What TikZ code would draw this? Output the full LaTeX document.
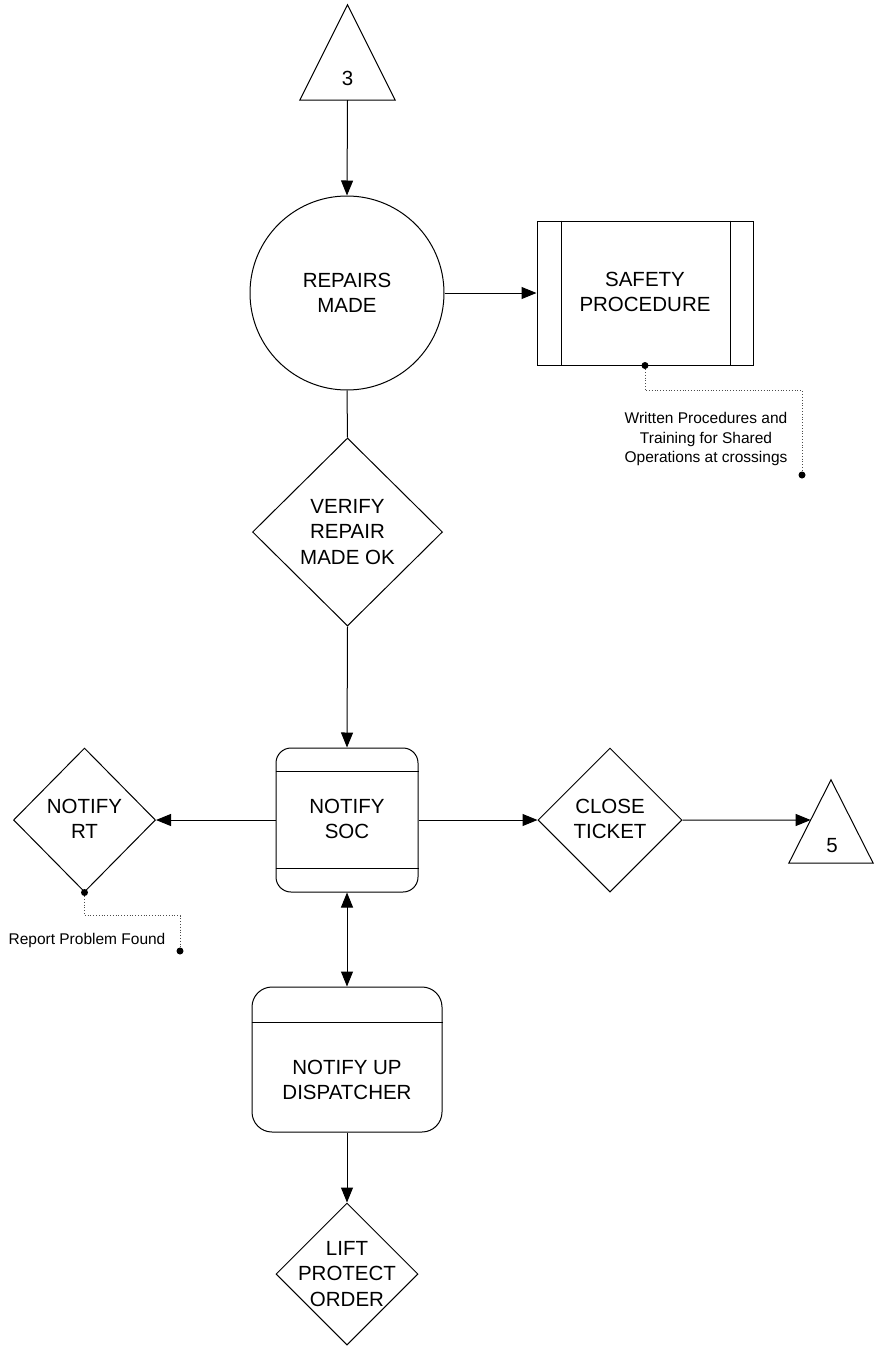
\documentclass[tikz,border=0pt]{standalone}
\usepackage{fontspec}
\setmainfont{Liberation Sans}
\usetikzlibrary{arrows.meta,shapes.geometric,calc}

\begin{document}
\begin{tikzpicture}[x=1pt,y=-1pt,
  wire/.style={line width=1pt,black},
  arr/.style={wire,-{Triangle[length=15pt,width=12pt]}},
  dblarr/.style={wire,{Triangle[length=15pt,width=12pt]}-{Triangle[length=15pt,width=12pt]}},
  lbl/.style={font=\fontsize{20.5}{25.5}\selectfont,align=center,inner sep=0},
  notetext/.style={font=\fontsize{15.5}{19.3}\selectfont,align=center,inner sep=0},
  lead/.style={dotted,line width=0.8pt,black!70},
  leaddot/.style={circle,fill=black,inner sep=0,minimum size=7pt},
  box/.style={draw,wire,inner sep=0},
  dia/.style={diamond,draw,wire,inner sep=0},
  frame/.style={inner sep=0,draw=none}]

\useasboundingbox[fill=white] (0,0) rectangle (877,1349);

% off-page connector 3
\node[frame,minimum width=95,minimum height=95] (t3) at (347.5,52.5) {};
\draw[wire] (t3.south west) -- (t3.north) -- (t3.south east) -- cycle;
\node[lbl] (t3lbl) at (347.5,78) {3};

% repairs made
\node[circle,draw,wire,minimum size=194,inner sep=0] (repairs) at (347,293) {};
\node[lbl] (repairslbl) at (repairs) {REPAIRS\\MADE};

% safety procedure (predefined process)
\node[box,minimum width=216,minimum height=144] (safety) at (645,293) {};
\draw[wire] ([xshift=25pt]safety.north west) -- ([xshift=25pt]safety.south west);
\draw[wire] ([xshift=-23pt]safety.north east) -- ([xshift=-23pt]safety.south east);
\node[lbl] (safetylbl) at (645,292) {SAFETY\\PROCEDURE};

% note attached to safety procedure
\node[leaddot] (sdot) at (safety.south) {};
\node[leaddot] (wdot) at (802,475) {};
\draw[lead] (sdot) -- ++(0,25) -| (wdot);
\node[notetext] (wnote) at (706,439) {Written Procedures and\\Training for Shared\\Operations at crossings};

% verify repair
\node[dia,minimum width=190,minimum height=188] (verify) at (347.5,532) {};
\node[lbl] (verifylbl) at (verify) {VERIFY\\REPAIR\\MADE OK};

% notify SOC
\node[box,rounded corners=15pt,minimum width=142,minimum height=144] (soc) at (347,820) {};
\draw[wire] ([yshift=-24pt]soc.north west) -- ([yshift=-24pt]soc.north east);
\draw[wire] ([yshift=24pt]soc.south west) -- ([yshift=24pt]soc.south east);
\node[lbl] (soclbl) at (347,819) {NOTIFY\\SOC};

% notify RT
\node[dia,minimum width=142,minimum height=144] (rt) at (84.5,820) {};
\node[lbl] (rtlbl) at (84.5,819) {NOTIFY\\RT};
\node[leaddot] (rdot) at (rt.south) {};
\node[leaddot] (pdot) at (180,951) {};
\draw[lead] (rdot) -- ++(0,23) -| (pdot);
\node[notetext] (rnote) at (87,940) {Report Problem Found};

% close ticket
\node[dia,minimum width=144,minimum height=144] (close) at (610,820) {};
\node[lbl] (closelbl) at (610,819) {CLOSE\\TICKET};

% off-page connector 5
\node[frame,minimum width=84,minimum height=83] (t5) at (831,821.5) {};
\draw[wire] (t5.south west) -- (t5.north) -- (t5.south east) -- cycle;
\node[lbl] (t5lbl) at (832,846) {5};
\coordinate (t5in) at ($(t5.south west)!0.518!(t5.north)$);

% notify UP dispatcher
\node[box,rounded corners=20pt,minimum width=190,minimum height=145] (disp) at (347,1059.5) {};
\draw[wire] ([yshift=-36pt]disp.north west) -- ([yshift=-36pt]disp.north east);
\node[lbl] (displbl) at (347,1080) {NOTIFY UP\\DISPATCHER};

% lift protect order
\node[dia,minimum width=142,minimum height=142] (lift) at (347,1274) {};
\node[lbl] (liftlbl) at (347,1274) {LIFT\\PROTECT\\ORDER};

% connectors
\draw[arr] (t3.south) -- (repairs.north);
\draw[arr] (repairs.east) -- (safety.west);
\draw[wire] (repairs.south) -- (verify.north);
\draw[arr] (verify.south) -- (soc.north);
\draw[arr] (soc.west) -- (rt.east);
\draw[arr] (soc.east) -- (close.west);
\draw[arr] (close.east) -- (t5in);
\draw[dblarr] (soc.south) -- (disp.north);
\draw[arr] (disp.south) -- (lift.north);
\end{tikzpicture}
\end{document}
